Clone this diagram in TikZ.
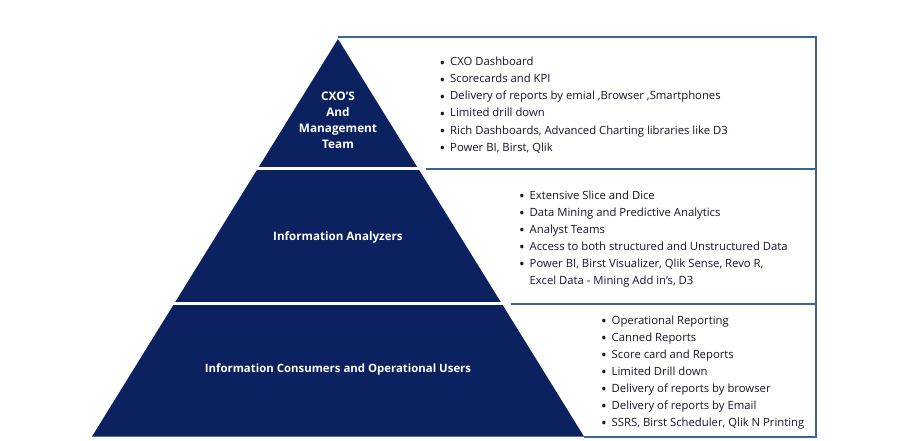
\documentclass[tikz,border=0pt]{standalone}
\usepackage{fontspec}
\setmainfont{Open Sans}
\definecolor{navy}{HTML}{0B2160}
\definecolor{frameblue}{HTML}{3C6690}
\definecolor{txt}{HTML}{15162A}
\newcommand{\bulmark}{\makebox[10.5pt][l]{\raisebox{-2.3pt}{\fontsize{15}{15}\selectfont\textbullet}}}
\newcommand{\nobulmark}{\makebox[10.5pt][l]{}}
\tikzset{
  level/.style={fill=navy, draw=none},
  gap/.style={draw=white, line width=2.6pt},
  frame/.style={draw=frameblue, line width=1.8pt},
  item/.style={anchor=base west, inner sep=0pt, text=txt, font=\fontsize{11.3}{13}\selectfont},
  lab/.style={text=white, align=center, inner sep=0pt},
}
\begin{document}
\begin{tikzpicture}[x=1pt,y=-1pt]
\useasboundingbox (0,0) rectangle (920,441);
\fill[white] (0,0) rectangle (920,441);
% frames
\draw[frame] (338,37) -- (816,37) -- (816,437) -- (584,437);
\draw[frame] (418,169) -- (816,169);
\draw[frame] (501,304) -- (816,304);
% pyramid
\fill[level] (338,39) -- (584,436.5) -- (92,436.5) -- cycle;
\draw[gap] (250,168.5) -- (426,168.5);
\draw[gap] (165,303.5) -- (511,303.5);
% labels
\node[lab, font=\bfseries\fontsize{11.8}{16}\selectfont] (l1) at (338,120) {CXO’S\\And\\Management\\Team};
\node[lab, font=\bfseries\fontsize{11.6}{12}\selectfont] (l2) at (338,237) {Information Analyzers};
\node[lab, font=\bfseries\fontsize{11.4}{12}\selectfont] (l3) at (338,370) {Information Consumers and Operational Users};
% box 1 items
\foreach \t [count=\i] in {{CXO Dashboard},{Scorecards and KPI},{Delivery of reports by emial ,Browser ,Smartphones},{Limited drill down},{Rich Dashboards, Advanced Charting libraries like D3},{Power BI, Birst, Qlik}}
  \node[item] (a\i) at (439.5,{66+17*(\i-1)}) {\bulmark\t};
% box 2 items
\foreach \t [count=\i] in {{Extensive Slice and Dice},{Data Mining and Predictive Analytics},{Analyst Teams},{Access to both structured and Unstructured Data},{Power BI, Birst Visualizer, Qlik Sense, Revo R,}}
  \node[item] (b\i) at (519,{199+17*(\i-1)}) {\bulmark\t};
\node[item] (b6) at (b5.base west) [yshift=-17pt] {\nobulmark Excel Data - Mining Add in’s, D3};
% box 3 items
\foreach \t [count=\i] in {{Operational Reporting},{Canned Reports},{Score card and Reports},{Limited Drill down},{Delivery of reports by browser},{Delivery of reports by Email},{SSRS, Birst Scheduler, Qlik N Printing}}
  \node[item] (c\i) at (601,{324+17*(\i-1)}) {\bulmark\t};
\end{tikzpicture}
\end{document}
